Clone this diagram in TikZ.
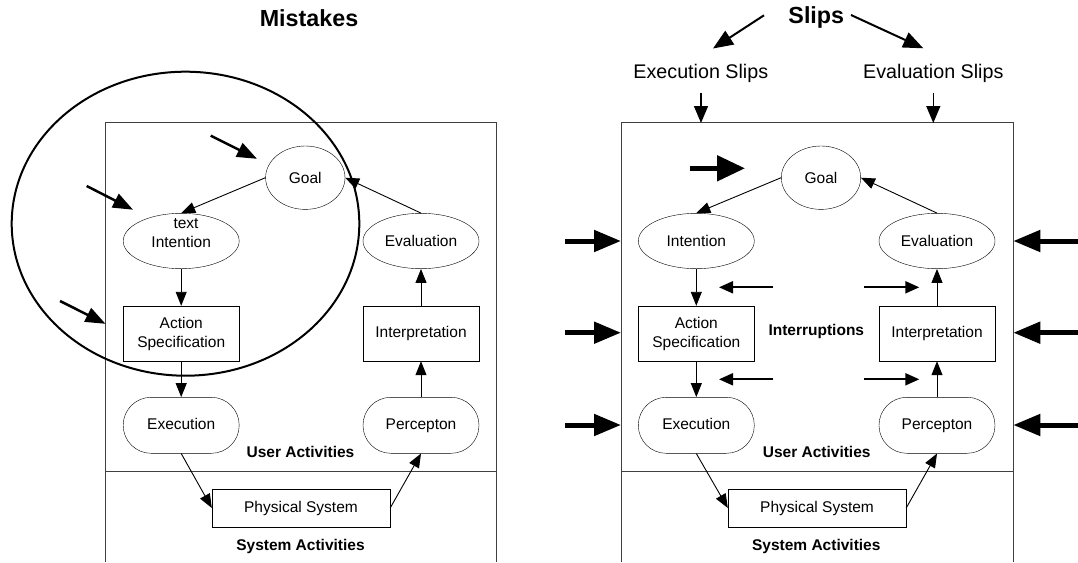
\documentclass[tikz,border=0pt]{standalone}
\usepackage{fontspec}
\setmainfont{Liberation Sans}
\usetikzlibrary{arrows.meta,shapes.geometric}
\begin{document}
\begin{tikzpicture}[x=1pt,y=-1pt,
  lbl/.style={font=\fontsize{15.5}{19}\selectfont, align=center, inner sep=0pt},
  ell/.style={lbl, draw, ellipse, minimum width=116pt, minimum height=55.4pt},
  goalshape/.style={lbl, draw, ellipse, minimum width=79.4pt, minimum height=63.4pt},
  boxshape/.style={lbl, draw, rectangle, minimum width=116pt, minimum height=55pt},
  stadium/.style={lbl, draw, rectangle, rounded corners=27.9pt, minimum width=116pt, minimum height=56pt, text height=11pt, text depth=3pt},
  physshape/.style={lbl, draw, rectangle, minimum width=178pt, minimum height=37.4pt},
  boldlbl/.style={font=\fontsize{15.5}{19}\selectfont\bfseries, inner sep=0pt},
  title/.style={font=\fontsize{23.3}{28}\selectfont\bfseries, inner sep=0pt},
  sliplbl/.style={font=\fontsize{19.7}{24}\selectfont, inner sep=0pt},
  conn/.style={line width=0.9pt, -{Triangle[length=14pt,width=11pt]}},
  panel/.style={line width=0.9pt, draw=black!75},
  thick arrow/.style={line width=5pt, -{Triangle[length=27pt,width=21pt]}},
  goal arrow/.style={line width=5pt, -{Triangle[length=28pt,width=25pt]}},
  mistake arrow/.style={line width=2.5pt, -{Triangle[length=20pt,width=15pt]}},
  interrupt arrow/.style={line width=2pt, -{Triangle[length=14pt,width=12pt]}},
  slip arrow/.style={line width=2pt, -{Triangle[length=20pt,width=16pt]}},
  down arrow/.style={line width=1.4pt, -{Triangle[length=17pt,width=14pt]}},
]
\useasboundingbox (0,0) rectangle (1078,562);

% ================= LEFT PANEL =================
\draw[panel] (105.7,562) -- (105.7,122.7) -- (496.7,122.7) -- (496.7,562);
\draw[panel] (105.7,471.7) -- (496.7,471.7);

\node[title] (mistakes) at (309,18.3) {Mistakes};

\node[goalshape] (goalL) at (305.3,177.7) {Goal};
\node[ell] (intL) at (181.2,241) {};
\node[lbl] (intLtext) at (181.2,241.5) {Intention};
\node[lbl] (intLnote) at (186,224) {text};
\node[ell] (evalL) at (421,241) {Evaluation};
\node[boxshape] (actL) at (181.2,333.5) {Action\\Specification};
\node[boxshape] (interpL) at (421,333.5) {Interpretation};
\node[stadium] (execL) at (181.2,425.3) {Execution};
\node[stadium] (percL) at (421,425.3) {Percepton};
\node[physshape] (physL) at (301,508) {Physical System};
\node[boldlbl] (userL) at (300.5,452.3) {User Activities};
\node[boldlbl] (sysL) at (300.5,546.7) {System Activities};

\draw[conn] (goalL.west) -- (intL.north);
\draw[conn] (evalL.north) -- (goalL.east);
\draw[conn] (intL.south) -- (actL.north);
\draw[conn] (actL.south) -- (execL.north);
\draw[conn] (interpL.north) -- (evalL.south);
\draw[conn] (percL.north) -- (interpL.south);
\draw[conn] (execL.south) -- (physL.west);
\draw[conn] (physL.east) -- (percL.south);

% big mistakes ellipse
\draw[line width=2pt] (185.5,223.7) ellipse [x radius=173.8pt, y radius=152pt];

% mistake arrows
\coordinate (m1s) at (210.7,135.7); \coordinate (m1e) at (257,158.8);
\coordinate (m2s) at (86.7,186);    \coordinate (m2e) at (133,209.7);
\coordinate (m3s) at (60,301);      \coordinate (m3e) at (105.5,323.8);
\draw[mistake arrow] (m1s) -- (m1e);
\draw[mistake arrow] (m2s) -- (m2e);
\draw[mistake arrow] (m3s) -- (m3e);

% ================= RIGHT PANEL =================
\draw[panel] (621,562) -- (621,122.7) -- (1013.3,122.7) -- (1013.3,562);
\draw[panel] (621,471.7) -- (1013.3,471.7);

\node[title] (slips) at (816.3,17.3) {Slips};
\node[sliplbl] (execslips) at (700.8,73.3) {Execution Slips};
\node[sliplbl] (evalslips) at (933.3,73.3) {Evaluation Slips};

\node[goalshape] (goalR) at (821,177.7) {Goal};
\node[ell] (intR) at (696.3,241) {Intention};
\node[ell] (evalR) at (937,241) {Evaluation};
\node[boxshape] (actR) at (696.3,333.5) {Action\\Specification};
\node[boxshape] (interpR) at (937,333.5) {Interpretation};
\node[stadium] (execR) at (696.3,425.3) {Execution};
\node[stadium] (percR) at (937,425.3) {Percepton};
\node[physshape] (physR) at (817,508) {Physical System};
\node[boldlbl] (userR) at (816.7,452.3) {User Activities};
\node[boldlbl] (sysR) at (816.3,546.7) {System Activities};
\node[boldlbl] (interr) at (816.3,331.7) {Interruptions};

\draw[conn] (goalR.west) -- (intR.north);
\draw[conn] (evalR.north) -- (goalR.east);
\draw[conn] (intR.south) -- (actR.north);
\draw[conn] (actR.south) -- (execR.north);
\draw[conn] (interpR.north) -- (evalR.south);
\draw[conn] (percR.north) -- (interpR.south);
\draw[conn] (execR.south) -- (physR.west);
\draw[conn] (physR.east) -- (percR.south);

% slips arrows
\coordinate (s1s) at (764,15.3);  \coordinate (s1e) at (713,48.5);
\coordinate (s2s) at (851,15);    \coordinate (s2e) at (923.3,48.3);
\draw[slip arrow] (s1s) -- (s1e);
\draw[slip arrow] (s2s) -- (s2e);

\coordinate (d1s) at (701,93.3);   \coordinate (d1e) at (701,123);
\coordinate (d2s) at (933.3,93.3); \coordinate (d2e) at (933.3,123);
\draw[down arrow] (d1s) -- (d1e);
\draw[down arrow] (d2s) -- (d2e);

% goal thick arrow
\coordinate (g1s) at (690,168.3); \coordinate (g1e) at (745,168.3);
\draw[goal arrow] (g1s) -- (g1e);

% side thick arrows
\foreach \y [count=\i] in {241,332.7,425} {
  \coordinate (la\i s) at (565,\y);  \coordinate (la\i e) at (621,\y);
  \coordinate (ra\i s) at (1080,\y); \coordinate (ra\i e) at (1013.3,\y);
  \draw[thick arrow] (la\i s) -- (la\i e);
  \draw[thick arrow] (ra\i s) -- (ra\i e);
}

% interruption arrows
\foreach \y [count=\i] in {287.3,379.3} {
  \coordinate (il\i s) at (773.3,\y); \coordinate (il\i e) at (719,\y);
  \coordinate (ir\i s) at (864.3,\y); \coordinate (ir\i e) at (919.3,\y);
  \draw[interrupt arrow] (il\i s) -- (il\i e);
  \draw[interrupt arrow] (ir\i s) -- (ir\i e);
}
\end{tikzpicture}
\end{document}
